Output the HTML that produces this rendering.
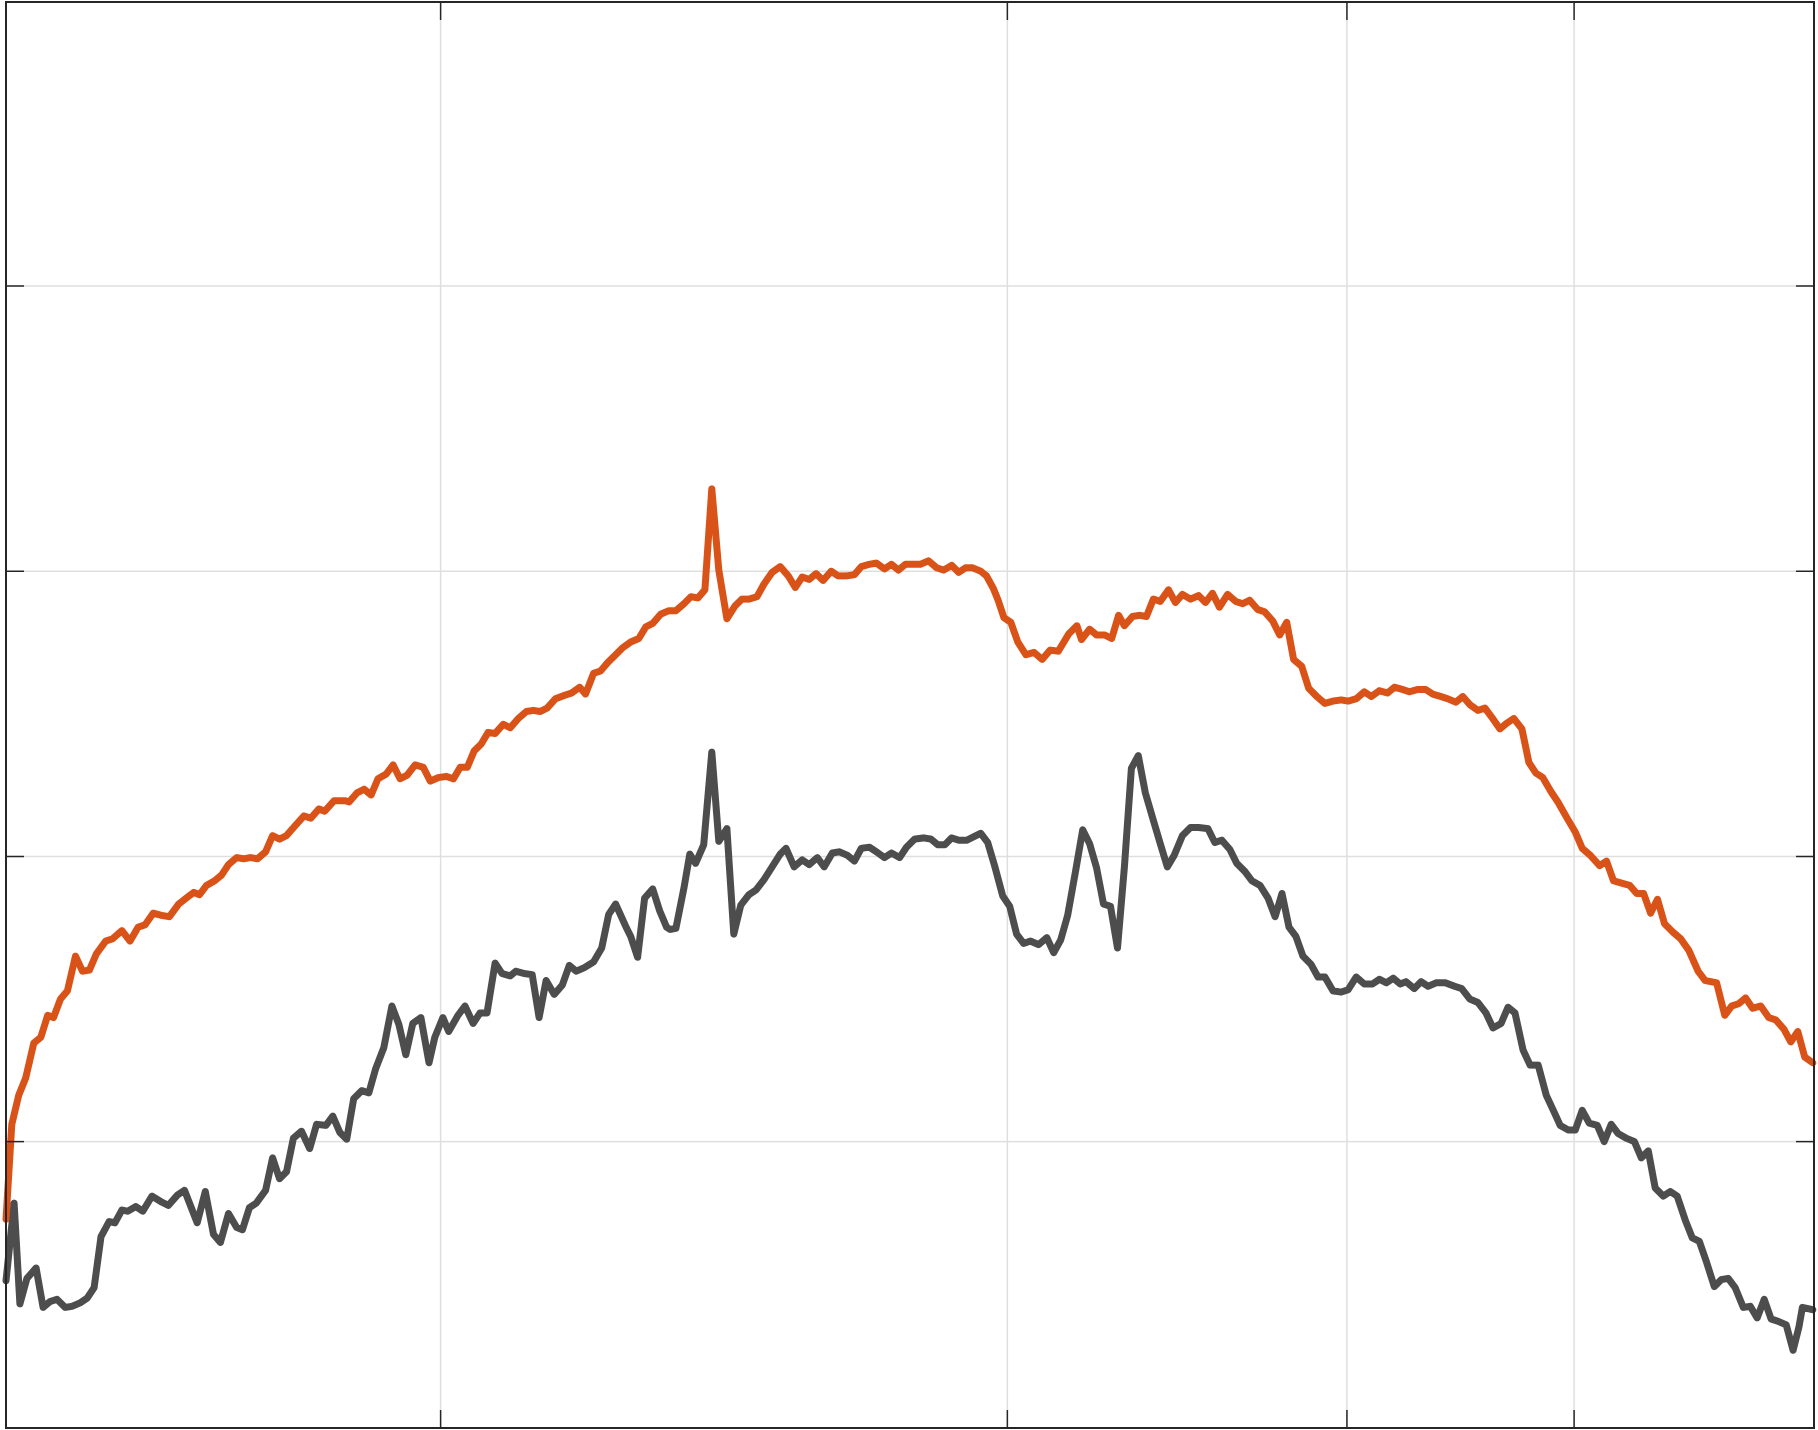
<!DOCTYPE html>
<html><head><meta charset="utf-8"><style>
html,body{margin:0;padding:0;background:#fff}
svg{display:block}
</style></head><body>
<svg id="chart" width="1818" height="1430" viewBox="0 0 1818 1430" xmlns="http://www.w3.org/2000/svg">
<g id="grid"></g>
<g id="series"></g>
<g id="axes"></g>
</svg>
<script>
// x in frequency-bin units, y in level units (larger = lower)
const xGridTicks = [380, 869, 1162, 1358];
const yGridTicks = [247, 493, 739, 985];
const orangeX = [5,10,16,22,29,35,41,46,52,58,65,71,77,83,91,97,105,112,119,125,132,140,146,154,163,167,172,178,185,191,197,204,210,216,222,229,235,241,247,254,262,268,275,280,288,298,301,308,314,320,326,333,339,345,351,358,365,371,378,385,391,397,403,409,415,421,427,434,440,447,454,460,466,472,479,487,493,500,505,512,518,524,530,537,544,551,557,563,570,577,583,590,596,602,608,614,620,627,634,640,646,653,659,666,673,680,686,692,698,704,710,717,723,730,737,743,750,756,763,769,775,781,788,794,801,808,814,821,827,833,839,846,851,857,861,866,872,878,885,892,899,906,913,922,929,933,940,946,953,959,965,970,977,983,989,995,1001,1008,1014,1020,1027,1034,1040,1046,1052,1059,1066,1072,1078,1085,1091,1098,1104,1110,1116,1123,1129,1136,1143,1150,1157,1163,1170,1177,1183,1190,1197,1203,1210,1216,1223,1230,1236,1243,1249,1256,1262,1268,1275,1281,1287,1294,1300,1306,1313,1319,1325,1331,1338,1344,1352,1359,1365,1372,1380,1386,1392,1399,1406,1412,1418,1424,1430,1436,1443,1450,1457,1465,1471,1481,1488,1494,1500,1506,1512,1519,1526,1532,1539,1545,1551,1557,1564];
const orangeY = [1052,970,945,930,900,895,876,878,862,855,825,838,837,823,812,810,803,812,800,798,788,790,791,780,773,770,772,764,760,755,746,740,741,740,741,735,721,724,721,713,704,706,698,700,691,691,692,684,681,686,672,668,660,672,669,660,662,674,671,670,672,662,662,648,642,632,633,625,628,620,614,613,614,611,603,600,598,593,599,581,579,572,566,559,554,551,541,538,530,527,527,521,515,516,509,422,492,534,523,517,517,515,504,494,489,497,507,498,500,495,501,493,497,497,496,489,487,486,491,487,492,487,487,487,484,490,492,488,494,490,490,493,497,508,518,533,537,554,565,563,569,561,562,547,540,552,543,548,548,551,531,540,532,531,532,517,519,509,520,513,517,514,520,512,524,513,519,521,518,526,528,536,548,537,569,575,594,601,607,605,604,605,603,597,601,596,598,593,595,597,595,595,599,601,603,606,601,608,613,611,619,629,624,620,629,658,667,671,683,692,706,718,732,738,747,743,760,762,764,771,771,788,776,797,804,810,820,838,846,848,876,868,866,861,870,868,878,880,888,899,890,912,917];
const grayX = [5,12,17,23,31,37,43,49,56,62,69,75,81,87,94,99,105,110,117,123,131,139,145,153,159,170,177,184,190,197,204,209,215,221,229,235,241,247,253,260,267,273,281,287,293,299,305,312,318,324,331,338,344,350,356,363,370,375,382,387,395,401,408,414,420,427,433,440,445,452,459,465,471,478,485,491,497,504,512,519,525,531,540,544,550,556,563,569,575,578,583,590,595,600,607,614,620,627,633,639,646,652,659,666,673,678,685,692,698,705,711,718,724,731,737,743,750,756,763,769,776,782,789,797,803,809,815,821,827,834,840,846,852,858,865,871,877,883,889,896,903,909,915,921,928,934,940,946,952,958,964,970,976,982,988,995,1001,1007,1013,1020,1027,1034,1042,1048,1054,1061,1067,1074,1080,1087,1094,1100,1106,1112,1118,1124,1131,1137,1143,1150,1157,1163,1170,1177,1184,1190,1196,1202,1208,1213,1220,1226,1232,1239,1247,1255,1261,1268,1275,1282,1288,1295,1301,1307,1314,1320,1327,1334,1341,1346,1353,1359,1365,1371,1378,1384,1390,1396,1403,1410,1416,1422,1428,1435,1441,1447,1454,1460,1466,1472,1479,1485,1491,1497,1504,1510,1516,1522,1528,1534,1541,1547,1552,1555,1564];
const grayY = [1105,1038,1125,1103,1094,1128,1123,1121,1128,1127,1124,1120,1111,1067,1054,1055,1044,1045,1041,1045,1032,1037,1040,1031,1027,1055,1028,1065,1072,1047,1059,1061,1042,1038,1027,999,1017,1011,982,976,991,970,971,963,977,983,948,941,943,922,904,868,884,910,883,878,917,895,878,890,876,868,883,874,874,831,840,842,838,840,841,878,846,858,850,833,838,835,830,818,789,780,800,808,826,775,767,786,800,802,801,766,737,745,729,649,726,715,806,781,772,768,759,748,737,732,748,742,746,740,748,736,735,738,743,732,731,735,740,736,740,731,724,723,724,729,729,723,725,725,722,719,727,747,773,782,806,814,812,815,809,822,811,790,751,716,728,749,780,782,818,748,663,652,684,708,728,748,738,721,714,714,715,727,725,733,745,752,760,764,775,791,771,800,808,825,832,843,843,855,856,854,843,849,849,845,848,844,849,847,853,847,851,848,848,851,853,862,865,874,887,883,869,874,906,919,919,945,960,971,975,975,958,969,971,985,970,978,982,985,999,993,1025,1032,1028,1032,1053,1068,1071,1088,1110,1104,1103,1111,1128,1127,1137,1121,1138,1140,1143,1165,1145,1128,1130];

const X0=6,X1=1814,Y0=2,Y1=1428;
const xDomain=[5,1565], yDomain=[2,1232];
function xs(v){return X0+(v-xDomain[0])/(xDomain[1]-xDomain[0])*(X1-X0);}
function ys(v){return Y0+(v-yDomain[0])/(yDomain[1]-yDomain[0])*(Y1-Y0);}
const NS='http://www.w3.org/2000/svg';
function mk(tag,attrs,parent){const e=document.createElementNS(NS,tag);for(const k in attrs)e.setAttribute(k,attrs[k]);parent.appendChild(e);return e;}
const grid=document.getElementById('grid'),series=document.getElementById('series'),axes=document.getElementById('axes');
xGridTicks.forEach(v=>{
  const l=mk('line',{x1:xs(v),x2:xs(v),y1:Y0,y2:Y1,stroke:'#dfdfdf','stroke-width':1.5},grid);
  
  
  const t1=mk('line',{x1:xs(v),x2:xs(v),y1:Y0,y2:Y0+18,stroke:'#262626','stroke-width':1.5},axes);
  
  
  const t2=mk('line',{x1:xs(v),x2:xs(v),y1:Y1,y2:Y1-18,stroke:'#262626','stroke-width':1.5},axes);
  
  
});
yGridTicks.forEach(v=>{
  const l=mk('line',{x1:X0,x2:X1,y1:ys(v),y2:ys(v),stroke:'#dfdfdf','stroke-width':1.5},grid);
  
  
  const t1=mk('line',{x1:X0,x2:X0+18,y1:ys(v),y2:ys(v),stroke:'#262626','stroke-width':1.5},axes);
  
  
  const t2=mk('line',{x1:X1,x2:X1-18,y1:ys(v),y2:ys(v),stroke:'#262626','stroke-width':1.5},axes);
  
  
});
function line(xa,ya,color,name){
  const d=xa.map((x,i)=>(i?'L':'M')+xs(x).toFixed(1)+','+ys(ya[i]).toFixed(1)).join('');
  const p=mk('path',{d:d,fill:'none',stroke:color,'stroke-width':7,'stroke-linejoin':'round','stroke-linecap':'round'},series);
  
  
}
line(grayX,grayY,'#4d4d4d','gray-series-line');
line(orangeX,orangeY,'#d95319','orange-series-line');
const box=mk('rect',{x:X0,y:Y0,width:X1-X0,height:Y1-Y0,fill:'none',stroke:'#262626','stroke-width':2},axes);


</script>
</body></html>
